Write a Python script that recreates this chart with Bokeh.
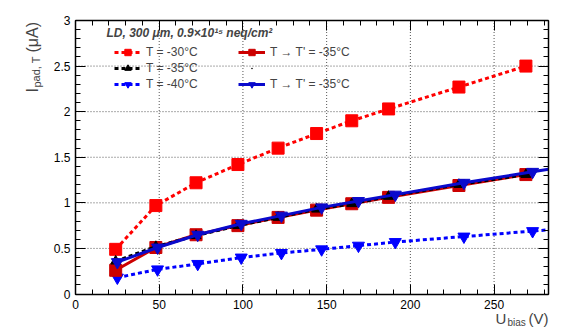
from bokeh.plotting import figure
from bokeh.models import (Range1d, LinearAxis, FixedTicker, CustomJSTickFormatter,
                          Legend, LegendItem, Label)
from bokeh.embed import file_html
from bokeh.resources import INLINE

# ---- data ----
u_bias = [24, 48, 72, 97, 121, 144, 165, 187, 229, 269]
u_bias_blue = [25, 49, 73, 99, 123, 147, 169, 191, 232, 273]
i_m30 = [0.49, 0.97, 1.22, 1.42, 1.60, 1.76, 1.90, 2.03, 2.27, 2.50]
i_m35 = [0.36, 0.52, 0.64, 0.75, 0.84, 0.93, 0.99, 1.07, 1.20, 1.31]
i_m40 = [0.18, 0.27, 0.33, 0.40, 0.45, 0.49, 0.53, 0.57, 0.63, 0.69]
i_red_scaled = [0.26, 0.51, 0.65, 0.75, 0.84, 0.92, 0.99, 1.06, 1.19, 1.31]
i_blue_scaled = [0.35, 0.51, 0.65, 0.77, 0.86, 0.95, 1.02, 1.09, 1.22, 1.34]

x_ticks = [0, 50, 100, 150, 200, 250]
y_ticks = [0, 0.5, 1, 1.5, 2, 2.5, 3]
X_MAX = 282.5
Y_MAX = 3.0

FONT = "Liberation Sans"

# ---- layout (pixels) ----
W, H = 585, 329
F_LEFT, F_RIGHT, F_TOP, F_BOTTOM = 75, 548, 20, 293.5
sx = (F_RIGHT - F_LEFT) / X_MAX
sy = (F_BOTTOM - F_TOP) / Y_MAX
x_range = Range1d(-F_LEFT / sx, X_MAX + (W - F_RIGHT) / sx)
y_range = Range1d(-(H - F_BOTTOM) / sy, Y_MAX + F_TOP / sy)

p = figure(width=W, height=H, output_backend="svg", toolbar_location=None,
           x_range=x_range, y_range=y_range,
           min_border_left=0, min_border_right=0, min_border_top=0, min_border_bottom=0,
           x_axis_location=None, y_axis_location=None)
p.outline_line_color = None
p.background_fill_color = "white"
p.border_fill_color = "white"
p.xgrid.visible = False
p.ygrid.visible = False

x_minor = list(range(0, 290, 10))
y_minor = [round(0.1 * k, 1) for k in range(0, 31)]
fmt = CustomJSTickFormatter(code="return tick.toString();")
nofmt = CustomJSTickFormatter(code="return '';")


def make_axis(ticks, minor, loc, bounds, labels=True):
    ax = LinearAxis(ticker=FixedTicker(ticks=ticks, minor_ticks=minor),
                    formatter=fmt if labels else nofmt,
                    fixed_location=loc, bounds=bounds)
    ax.axis_line_color = "black"
    ax.axis_line_width = 1.5
    ax.major_tick_in = 10
    ax.major_tick_out = 0
    ax.minor_tick_in = 5
    ax.minor_tick_out = 0
    ax.major_tick_line_color = "black"
    ax.minor_tick_line_color = "black"
    ax.major_label_text_font = FONT
    ax.major_label_text_font_size = "12px"
    ax.major_label_text_color = "black"
    return ax


bx = make_axis(x_ticks, x_minor, 0, (0, X_MAX))
bx.major_label_standoff = 6
ly = make_axis(y_ticks, y_minor, 0, (0, Y_MAX))
ly.major_label_standoff = 5
tx = make_axis(x_ticks, x_minor, Y_MAX, (0, X_MAX), labels=False)
ry = make_axis(y_ticks, y_minor, X_MAX, (0, Y_MAX), labels=False)
p.add_layout(bx, "below")
p.add_layout(ly, "left")
p.add_layout(tx, "above")
p.add_layout(ry, "right")

# dotted grid at the major ticks, inside the frame
gx_ticks = [t for t in x_ticks if 0 < t < X_MAX]
gy_ticks = [t for t in y_ticks if 0 < t < Y_MAX]
p.segment(x0=gx_ticks, y0=[0] * len(gx_ticks), x1=gx_ticks, y1=[Y_MAX] * len(gx_ticks),
          line_color="#555555", line_dash="1 2", line_width=1)
p.segment(x0=[0] * len(gy_ticks), y0=gy_ticks, x1=[X_MAX] * len(gy_ticks), y1=gy_ticks,
          line_color="#555555", line_dash="1 2", line_width=1)

RED = "#ff0000"
DRED = "#cc0000"
BLUE = "#0000ff"
DBLUE = "#0a0acc"


def extend(xs, ys):
    s = (ys[-1] - ys[-2]) / (xs[-1] - xs[-2])
    return list(xs) + [X_MAX], list(ys) + [ys[-1] + s * (X_MAX - xs[-1])]


# -30 C
l30 = p.line(u_bias, i_m30, line_color=RED, line_width=3, line_dash="4 3")
m30 = p.scatter(u_bias, i_m30, marker="square", size=12, fill_color=RED, line_color=RED)
# -40 C
xb40, yb40 = extend(u_bias_blue, i_m40)
l40 = p.line(xb40, yb40, line_color=BLUE, line_width=3, line_dash="4 3")
m40 = p.scatter(u_bias_blue, i_m40, marker="inverted_triangle", size=12, fill_color=BLUE, line_color=BLUE)
# red T -> T'
lrs = p.line(u_bias, i_red_scaled, line_color=DRED, line_width=3)
mrs = p.scatter(u_bias, i_red_scaled, marker="square", size=12, fill_color=DRED, line_color=DRED)
# small black dot (legend placeholder entry), hidden under the -35 C markers
dot = p.scatter(u_bias[:1], i_m35[:1], marker="dot", size=10,
                fill_color="black", line_color="black", line_width=2)
# -35 C
l35 = p.line(u_bias, i_m35, line_color="black", line_width=3, line_dash="4 3")
m35 = p.scatter(u_bias, i_m35, marker="triangle", size=10, fill_color="black", line_color="black")
# blue T -> T'
xbs, ybs = extend(u_bias_blue, i_blue_scaled)
lbs = p.line(xbs, ybs, line_color=DBLUE, line_width=3)
mbs = p.scatter(u_bias_blue, i_blue_scaled, marker="inverted_triangle", size=12, fill_color=DBLUE, line_color=DBLUE)


def style_legend(lg):
    lg.background_fill_alpha = 0
    lg.border_line_color = None
    lg.label_text_font = FONT
    lg.label_text_font_size = "12px"
    lg.glyph_width = 27
    lg.glyph_height = 16
    lg.label_standoff = 5
    lg.spacing = 0
    lg.padding = 0
    lg.margin = 0
    lg.label_height = 16


leg1 = Legend(items=[
    LegendItem(label="T = -30°C", renderers=[l30, m30]),
    LegendItem(label="T = -35°C", renderers=[l35, m35]),
    LegendItem(label="T = -40°C", renderers=[l40, m40]),
], location=(114, 237))
leg2 = Legend(items=[
    LegendItem(label="T → T' = -35°C", renderers=[lrs, mrs]),
    LegendItem(label=" ", renderers=[dot]),
    LegendItem(label="T → T' = -35°C", renderers=[lbs, mbs]),
], location=(238, 237))
style_legend(leg1)
style_legend(leg2)
p.add_layout(leg1)
p.add_layout(leg2)


def scr_label(x, y, text, size, angle=0.0, style="normal"):
    return Label(x=x, y=y, x_units="screen", y_units="screen", text=text,
                 text_font=FONT, text_font_size=size, angle=angle,
                 text_font_style=style, text_baseline="alphabetic", text_align="left")


p.add_layout(scr_label(106, 297, "LD, 300 μm, 0.9×10¹⁵ neq/cm²", "12px", style="bold italic"))

# axis titles
p.add_layout(scr_label(495, 11, "U", "15px"))
p.add_layout(scr_label(507, 7, "bias", "10px"))
p.add_layout(scr_label(528, 11, "(V)", "15px"))

p.add_layout(scr_label(32, 237, "I", "16px", 1.5708))
p.add_layout(scr_label(36, 242, "pad, T", "11px", 1.5708))
p.add_layout(scr_label(32, 277, "(μA)", "16px", 1.5708))

open("out.html", "w").write(file_html(p, INLINE))
